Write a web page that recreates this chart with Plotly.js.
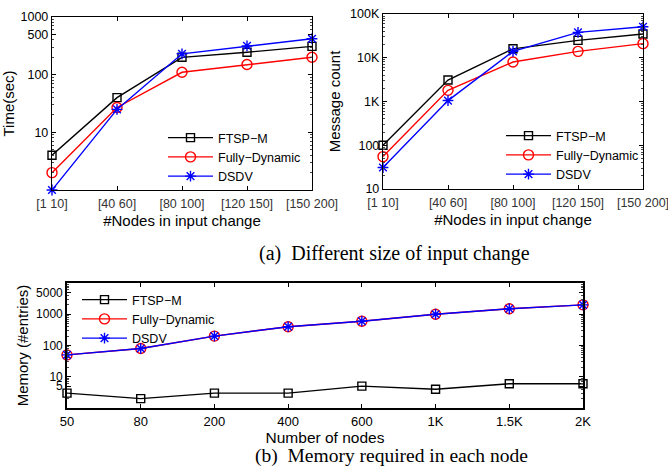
<!DOCTYPE html>
<html>
<head>
<meta charset="utf-8">
<script src="https://cdn.plot.ly/plotly-3.0.1.min.js"></script>
<style>html,body{margin:0;padding:0;background:#fff;}#chart{width:668px;height:466px;}</style>
</head>
<body>
<div id="chart"></div>
<script>
// ---- data ----
const rangeCategories = ['[1 10]', '[40 60]', '[80 100]', '[120 150]', '[150 200]'];
const timeFTSP = [4, 40, 200, 245, 310];
const timeFully = [2, 27, 110, 150, 200];
const timeDSDV = [1, 25, 230, 315, 420];
const msgFTSP = [100, 3100, 16000, 25000, 35000];
const msgFully = [55, 1800, 8000, 14000, 21000];
const msgDSDV = [31, 1050, 14000, 38000, 51000];
const nodeCategories = ['50', '80', '200', '400', '600', '1K', '1.5K', '2K'];
const memFTSP = [3, 2, 3, 3, 5, 4, 6, 6];
const memFully = [50, 80, 200, 400, 600, 1000, 1500, 2000];
const memDSDV = [50, 80, 200, 400, 600, 1000, 1500, 2000];
const timeTicks = [10, 100, 500, 1000];
const timeTickText = ['10', '100', '500', '1000'];
const msgTicks = [10, 100, 1000, 10000, 100000];
const msgTickText = ['10', '100', '1K', '10K', '100K'];
const memTicks = [5, 10, 100, 1000, 5000];
const memTickText = ['5', '10', '100', '1000', '5000'];
const seriesNames = ['FTSP\u2212M', 'Fully\u2212Dynamic', 'DSDV'];

// ---- styles ----
const FONT = 'Liberation Sans, Arial, Helvetica, sans-serif';
const SERIF = 'Liberation Serif, Times New Roman, serif';
const styles = [
  {color: '#000000', symbol: 'square-open', size: 8},
  {color: '#ff0000', symbol: 'circle-open', size: 10},
  {color: '#0000ff', symbol: 'asterisk-open', size: 9}
];
function minorVals(lo, hi) {
  const v = [];
  for (let e = lo; e < hi; e++) for (let m = 2; m <= 9; m++) v.push(m * Math.pow(10, e));
  return v;
}
function mk(x, y, i, xa, ya, leg) {
  const s = styles[i];
  return {
    type: 'scatter', mode: 'lines+markers', x: x, y: y, name: seriesNames[i],
    xaxis: xa, yaxis: ya, legend: leg, cliponaxis: false,
    line: {color: s.color, width: 1.4},
    marker: {symbol: s.symbol, size: s.size, color: s.color, line: {color: s.color, width: 1.4}}
  };
}
const traces = [
  mk(rangeCategories, timeFTSP, 0, 'x', 'y', 'legend'),
  mk(rangeCategories, timeFully, 1, 'x', 'y', 'legend'),
  mk(rangeCategories, timeDSDV, 2, 'x', 'y', 'legend'),
  mk(rangeCategories, msgFTSP, 0, 'x2', 'y2', 'legend2'),
  mk(rangeCategories, msgFully, 1, 'x2', 'y2', 'legend2'),
  mk(rangeCategories, msgDSDV, 2, 'x2', 'y2', 'legend2'),
  mk(nodeCategories, memFTSP, 0, 'x3', 'y3', 'legend3'),
  mk(nodeCategories, memFully, 1, 'x3', 'y3', 'legend3'),
  mk(nodeCategories, memDSDV, 2, 'x3', 'y3', 'legend3')
];

const W = 668, H = 466;
function xd(a, b) { return [a / W, b / W]; }
function yd(top, bot) { return [1 - bot / H, 1 - top / H]; }

function xaxisCfg(dom, n, fontSize, tickColor, title, titleSize, standoff, lw, tls) {
  return {
    domain: dom, type: 'category', range: [0, n - 1], showgrid: false, zeroline: false,
    showline: true, linecolor: '#000', linewidth: lw, mirror: 'ticks',
    ticks: 'inside', ticklen: 4, tickcolor: '#000', tickwidth: 1, ticklabelstandoff: tls,
    tickfont: {family: FONT, size: fontSize, color: tickColor},
    title: {text: title, font: {family: FONT, size: titleSize, color: '#000'}, standoff: standoff},
    automargin: false, fixedrange: true
  };
}
function yaxisCfg(dom, range, tv, tt, fontSize, title, titleSize, standoff, lw) {
  return {
    domain: dom, type: 'log', range: range, showgrid: false, zeroline: false,
    showline: true, linecolor: '#000', linewidth: lw, mirror: 'ticks',
    ticks: 'inside', ticklen: 4, tickcolor: '#000', tickwidth: 1,
    tickmode: 'array', tickvals: tv, ticktext: tt,
    minor: {ticks: 'inside', ticklen: 2, tickcolor: '#444', tickmode: 'array', tickvals: minorVals(range[0], range[1])},
    tickfont: {family: FONT, size: fontSize, color: '#000'},
    title: {text: title, font: {family: FONT, size: titleSize, color: '#000'}, standoff: standoff},
    automargin: false, fixedrange: true
  };
}
function legendCfg(x, y, fs) {
  return {
    x: x, y: y, xanchor: 'left', yanchor: 'top', bgcolor: 'rgba(0,0,0,0)', borderwidth: 0,
    font: {family: FONT, size: fs, color: '#000'}, itemwidth: 45, tracegroupgap: 0
  };
}

const layout = {
  width: W, height: H, margin: {l: 0, r: 0, t: 0, b: 0},
  paper_bgcolor: '#fff', plot_bgcolor: '#fff', showlegend: true,
  xaxis: xaxisCfg(xd(52, 312), 5, 12.5, '#333', '#Nodes in input change', 15, 5, 1.2, 2),
  yaxis: yaxisCfg(yd(17, 190), [0, 3], timeTicks, timeTickText, 12.5, 'Time(sec)', 15, 5, 1.2),
  xaxis2: Object.assign(xaxisCfg(xd(383, 643), 5, 12.5, '#333', '#Nodes in input change', 15, 5, 1.2, 2), {anchor: 'y2'}),
  yaxis2: Object.assign(yaxisCfg(yd(14, 189), [1, 5], msgTicks, msgTickText, 12.5, 'Message count', 15, 5, 1.2), {anchor: 'x2'}),
  xaxis3: Object.assign(xaxisCfg(xd(67, 583), 8, 13, '#000', 'Number of nodes', 15.5, 0, 1.8, 1), {anchor: 'y3'}),
  yaxis3: Object.assign(yaxisCfg(yd(283, 408), [0, 4], memTicks, memTickText, 12, 'Memory (#entries)', 15, 4, 1.8), {anchor: 'x3'}),
  legend: legendCfg(163 / W, 1 - 123 / H, 12.5),
  legend2: legendCfg(501 / W, 1 - 121 / H, 12.5),
  legend3: legendCfg(77 / W, 1 - 285 / H, 12.5),
  annotations: [
    {text: '(a)\u00a0 Different size of input change', xref: 'paper', yref: 'paper', x: 394 / W, y: 1 - 253 / H,
     xanchor: 'center', yanchor: 'middle', showarrow: false, font: {family: SERIF, size: 20, color: '#000'}},
    {text: '(b)\u00a0 Memory required in each node', xref: 'paper', yref: 'paper', x: 391 / W, y: 1 - 456 / H,
     xanchor: 'center', yanchor: 'middle', showarrow: false, font: {family: SERIF, size: 19.5, color: '#000'}}
  ]
};
layout.xaxis.anchor = 'y';
layout.yaxis.anchor = 'x';

Plotly.newPlot('chart', traces, layout, {staticPlot: true, displayModeBar: false});
</script>
</body>
</html>
